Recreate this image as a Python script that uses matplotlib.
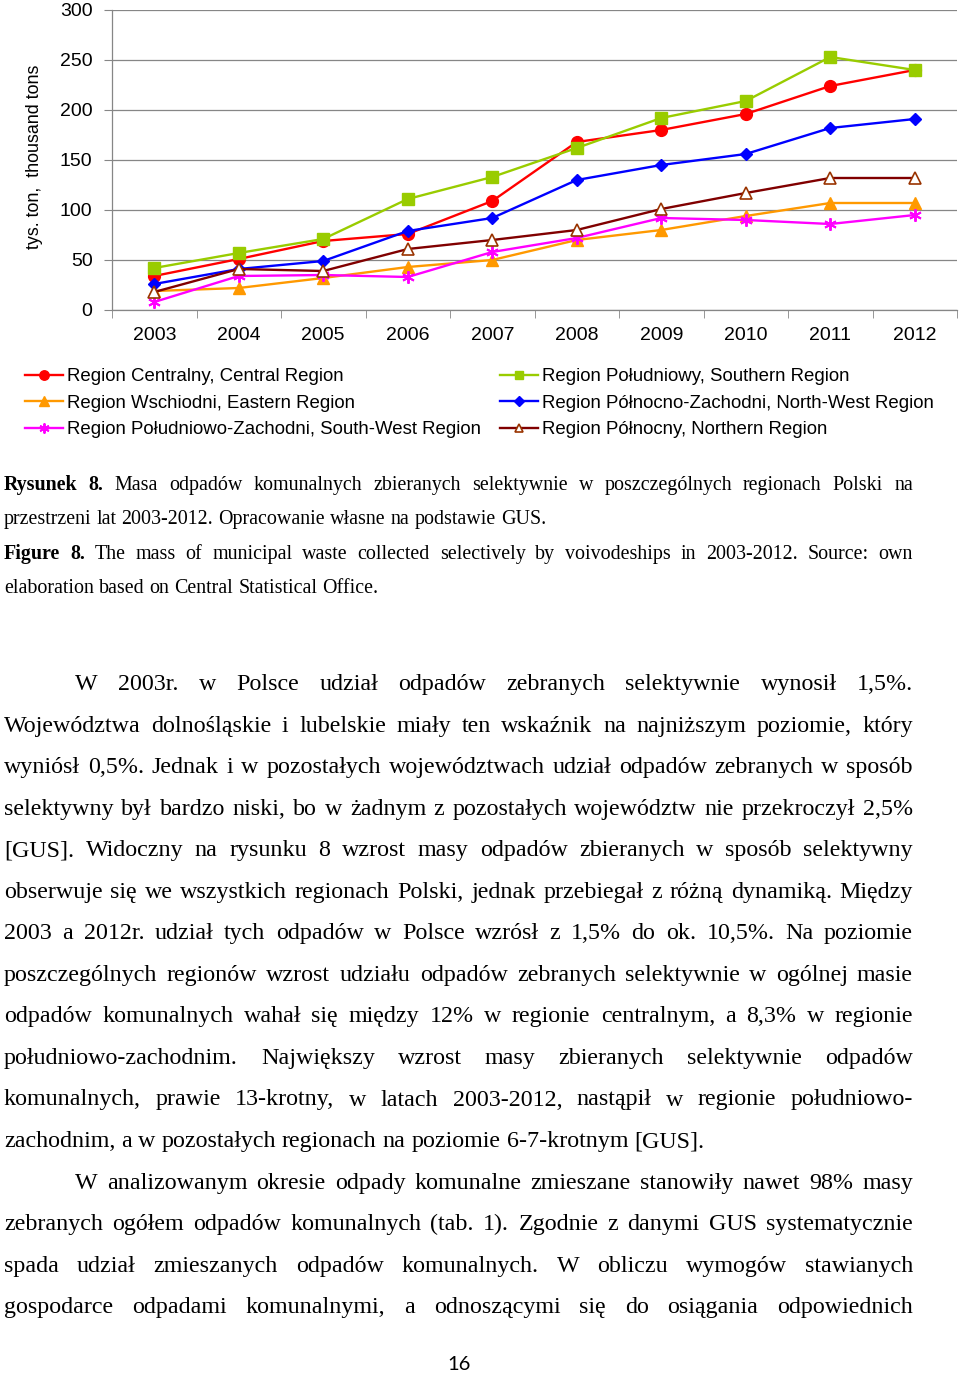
import matplotlib
matplotlib.use("Agg")
import matplotlib.pyplot as plt
import numpy as np

W, H = 960, 1373

years = ["2003", "2004", "2005", "2006", "2007", "2008", "2009", "2010", "2011", "2012"]
central = [34, 51, 69, 76, 109, 168, 180, 196, 224, 240]
southern = [42, 57, 71, 111, 133, 162, 192, 209, 253, 240]
eastern = [19, 22, 32, 43, 50, 70, 80, 94, 107, 107]
north_west = [26, 41, 49, 79, 92, 130, 145, 156, 182, 191]
south_west = [8, 34, 35, 33, 58, 72, 92, 90, 86, 95]
northern = [18, 41, 39, 61, 70, 80, 101, 117, 132, 132]

labels = {
    "central": "Region Centralny, Central Region",
    "southern": "Region Południowy, Southern Region",
    "eastern": "Region Wschiodni, Eastern Region",
    "north_west": "Region Północno-Zachodni, North-West Region",
    "south_west": "Region Południowo-Zachodni, South-West Region",
    "northern": "Region Północny, Northern Region",
}

caption = [
    ("Rysunek 8. Masa odpadów komunalnych zbieranych selektywnie w poszczególnych regionach Polski na", 2, True),
    ("przestrzeni lat 2003-2012. Opracowanie własne na podstawie GUS.", 0, False),
    ("Figure 8. The mass of municipal waste collected selectively by voivodeships in 2003-2012. Source: own", 2, True),
    ("elaboration based on Central Statistical Office.", 0, False),
]

body = [
    ("W 2003r. w Polsce udział odpadów zebranych selektywnie wynosił 1,5%.", True, True),
    ("Województwa dolnośląskie i lubelskie miały ten wskaźnik na najniższym poziomie, który", False, True),
    ("wyniósł 0,5%. Jednak i w pozostałych województwach udział odpadów zebranych w sposób", False, True),
    ("selektywny był bardzo niski, bo w żadnym z pozostałych województw nie przekroczył 2,5%", False, True),
    ("[GUS]. Widoczny na rysunku 8 wzrost masy odpadów zbieranych w sposób selektywny", False, True),
    ("obserwuje się we wszystkich regionach Polski, jednak przebiegał z różną dynamiką. Między", False, True),
    ("2003 a 2012r. udział tych odpadów w Polsce wzrósł z 1,5% do ok. 10,5%. Na poziomie", False, True),
    ("poszczególnych regionów wzrost udziału odpadów zebranych selektywnie w ogólnej masie", False, True),
    ("odpadów komunalnych wahał się między 12% w regionie centralnym, a 8,3% w regionie", False, True),
    ("południowo-zachodnim. Największy wzrost masy zbieranych selektywnie odpadów", False, True),
    ("komunalnych, prawie 13-krotny, w latach 2003-2012, nastąpił w regionie południowo-", False, True),
    ("zachodnim, a w pozostałych regionach na poziomie 6-7-krotnym [GUS].", False, False),
    ("W analizowanym okresie odpady komunalne zmieszane stanowiły nawet 98% masy", True, True),
    ("zebranych ogółem odpadów komunalnych (tab. 1). Zgodnie z danymi GUS systematycznie", False, True),
    ("spada udział zmieszanych odpadów komunalnych. W obliczu wymogów stawianych", False, True),
    ("gospodarce odpadami komunalnymi, a odnoszącymi się do osiągania odpowiednich", False, True),
]

SANS = "Liberation Sans"
SERIF = "Liberation Serif"
GRID = "#868686"

fig = plt.figure(figsize=(W / 100, H / 100), dpi=100)
fig.patch.set_facecolor("white")

ax = fig.add_axes([112 / W, 1 - 310 / H, 845 / W, 300 / H])
x = np.arange(len(years))

h_central, = ax.plot(x, central, color="#FF0000", lw=1.7, marker="o", ms=8.5,
                     mec="#FF0000", mfc="#FF0000", clip_on=False)
h_southern, = ax.plot(x, southern, color="#99CC00", lw=1.7, marker="s", ms=8,
                      mec="#99CC00", mfc="#99CC00", clip_on=False)
h_eastern, = ax.plot(x, eastern, color="#FF9900", lw=1.7, marker="^", ms=8.5,
                     mec="#FF9900", mfc="#FF9900", clip_on=False)
h_nw, = ax.plot(x, north_west, color="#0000FF", lw=1.7, marker="D", ms=6.5,
                mec="#0000FF", mfc="#0000FF", clip_on=False)
h_sw, = ax.plot(x, south_west, color="#FF00FF", lw=1.7, marker=(6, 2, 0), ms=9,
                mec="#FF00FF", mew=1.4, clip_on=False)
h_north, = ax.plot(x, northern, color="#800000", lw=1.7, marker="^", ms=8,
                   mec="#993300", mfc="white", mew=1.2, clip_on=False)

ax.set_xlim(-0.5, len(years) - 0.5)
ax.set_ylim(0, 300)
ax.set_yticks(np.arange(0, 301, 50))
ax.set_xticks(x)
ax.set_xticklabels(years)
ax.set_xticks(np.arange(-0.5, len(years), 1), minor=True)
ax.tick_params(axis="x", which="major", length=0, pad=12, labelsize=14)
ax.tick_params(axis="x", which="minor", length=6, color=GRID, direction="out")
ax.tick_params(axis="y", length=6, color=GRID, pad=8, labelsize=14)
for lab in ax.get_xticklabels() + ax.get_yticklabels():
    lab.set_family(SANS)
ax.grid(axis="y", color=GRID, lw=0.9)
ax.set_axisbelow(True)
for s in ["top", "right"]:
    ax.spines[s].set_visible(False)
for s in ["left", "bottom"]:
    ax.spines[s].set_color(GRID)
    ax.spines[s].set_linewidth(0.9)

fig.text(35 / W, 1 - 157 / H, "tys. ton,  thousand tons", rotation=90,
         ha="center", va="center", fontsize=12.9, family=SANS)

handles = [h_central, h_eastern, h_sw, h_southern, h_nw, h_north]
names = [labels["central"], labels["eastern"], labels["south_west"],
         labels["southern"], labels["north_west"], labels["northern"]]
leg = fig.legend(handles, names, ncol=2, loc="upper left",
                 bbox_to_anchor=(25 / W, 1 - 368 / H), frameon=False,
                 borderpad=0, borderaxespad=0, handlelength=2.05,
                 handletextpad=0.22, columnspacing=1.0, labelspacing=0.52,
                 prop={"family": SANS, "size": 13.4}, markerscale=0.8)

# text block: measure words and place them, justified like the page
fig.canvas.draw()
rend = fig.canvas.get_renderer()


def measure(s, size, weight="normal"):
    t = fig.text(0, 0, s, fontsize=size, family=SERIF, weight=weight)
    w = t.get_window_extent(rend).width
    t.remove()
    return w


def place_line(text, x0, x1, ybase, size, justify, bold_n=0):
    words = text.split(" ")
    items = []
    for i, w in enumerate(words):
        wt = "bold" if i < bold_n else "normal"
        t = fig.text(0, 1 - ybase / H, w, fontsize=size, family=SERIF,
                     weight=wt, ha="left", va="baseline")
        items.append((t, t.get_window_extent(rend).width))
    total = sum(w for _, w in items)
    if justify and len(items) > 1:
        gap = (x1 - x0 - total) / (len(items) - 1)
    else:
        gap = measure("a a", size) - measure("aa", size)
    xx = x0
    for t, w in items:
        t.set_x(xx / W)
        xx += w + gap


cap_size = 14.4
for i, (line, nb, just) in enumerate(caption):
    place_line(line, 4, 913, 490 + 34.4 * i, cap_size, just, nb)

body_size = 17.25
for i, (line, indent, just) in enumerate(body):
    x0 = 75 if indent else 4
    place_line(line, x0, 913, 690 + 41.55 * i, body_size, just)

fig.text(459 / W, 1 - 1370 / H, "16", ha="center", va="baseline",
         fontsize=14.5, family="Lato")

fig.savefig("out.png", dpi=100, facecolor="white")
